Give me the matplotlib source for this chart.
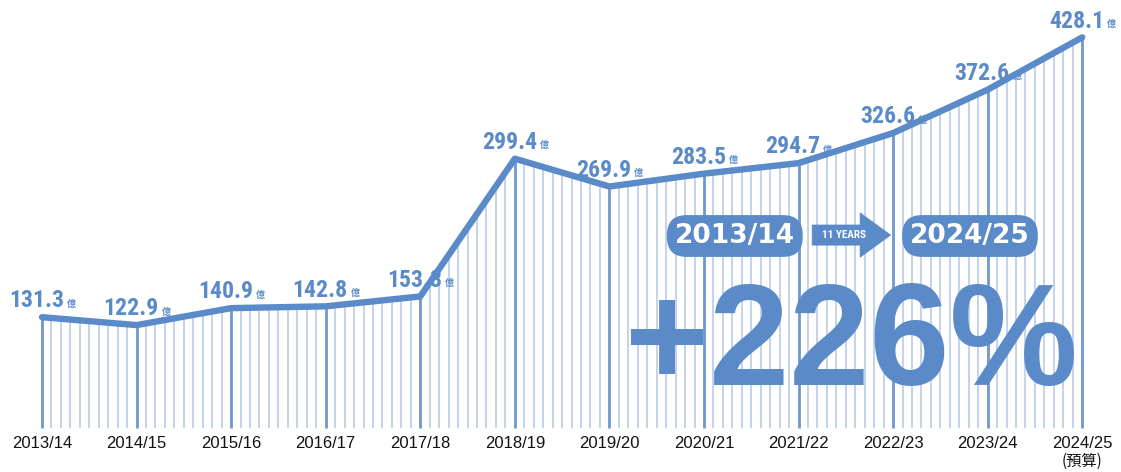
import numpy as np
import matplotlib
matplotlib.use("Agg")
import matplotlib.pyplot as plt
from matplotlib import font_manager

# data
seasons = ["2013/14", "2014/15", "2015/16", "2016/17", "2017/18", "2018/19",
           "2019/20", "2020/21", "2021/22", "2022/23", "2023/24", "2024/25"]
values = [131.3, 122.9, 140.9, 142.8, 153.3, 299.4,
          269.9, 283.5, 294.7, 326.6, 372.6, 428.1]
unit = "億"
budget_note = "(預算)"
badge_from = "2013/14"
badge_to = "2024/25"
badge_span = "11 YEARS"
growth = "+226%"

BLUE = "#5a8ac8"
MID = "#6e98d0"
LIGHT = "#b3c8e6"
BASE = 14
SUB = 10  # thin lines per season

names = {f.name for f in font_manager.fontManager.ttflist}


def pick(*cands):
    for c in cands:
        if c in names:
            return c
    return "Liberation Sans"


NARROW = pick("Roboto Condensed", "Oswald", "Archivo Narrow", "Liberation Sans Narrow")
CJK = "Noto Sans CJK TC"

fig = plt.figure(figsize=(11.21, 4.72), dpi=100)
ax = fig.add_axes([0, 0, 1, 1])
ax.set_xlim(-0.444, 11.41)
ax.set_ylim(-32.9, 467.7)
ax.axis("off")
renderer = fig.canvas.get_renderer()


def fit_size(s, family, weight, width_px, start=20):
    t = fig.text(0, 0, s, fontsize=start, family=family, fontweight=weight)
    w = t.get_window_extent(renderer).width
    t.remove()
    return start * width_px / w


x = np.arange(len(values))
# thin vertical hatching under the line
xs = np.linspace(0, len(values) - 1, (len(values) - 1) * SUB + 1)
ys = np.interp(xs, x, values)
thin = [i for i in range(len(xs)) if i % SUB != 0]
ax.vlines(xs[thin], BASE, ys[thin], color=LIGHT, lw=1.1, zorder=1)
ax.vlines(x, BASE, values, color=MID, lw=2.0, zorder=2)
ax.plot(x, values, color=BLUE, lw=4.6, solid_capstyle="round",
        solid_joinstyle="round", zorder=3)

# value labels
fam = [NARROW, "DejaVu Sans"]
num_fs = fit_size("131.3", fam, "heavy", 55)
for xi, v in zip(x, values):
    t = ax.annotate(f"{v:.1f}", (xi, v), xytext=(-4, 7), textcoords="offset points",
                    ha="center", va="baseline", fontsize=num_fs, fontweight="heavy",
                    family=fam, color=BLUE, zorder=5)
    ax.annotate(unit, xy=(1, 0), xycoords=t, xytext=(2, 2.5), textcoords="offset points",
                ha="left", va="bottom", fontsize=6.5, fontweight="bold",
                family=[CJK, "DejaVu Sans"], color=BLUE, zorder=5)

# season labels
for xi, s in zip(x, seasons):
    ax.text(xi, -3, s, ha="center", va="center", fontsize=12,
            family=["Liberation Sans", "DejaVu Sans"], color="#111111")
ax.text(x[-1], -21.5, budget_note, ha="center", va="center", fontsize=11,
        family=[CJK, "DejaVu Sans"], color="#111111")

# badges
pill = dict(boxstyle="round,pad=0.3,rounding_size=0.75", fc=BLUE, ec="none")
ax.text(0.6555, 0.5, badge_from, transform=ax.transAxes, ha="center", va="center",
        fontsize=19, fontweight="bold", color="white", bbox=pill, zorder=6)
ax.text(0.8653, 0.5, badge_to, transform=ax.transAxes, ha="center", va="center",
        fontsize=19, fontweight="bold", color="white", bbox=pill, zorder=6)
ax.annotate("", xy=(0.7945, 0.502), xytext=(0.7245, 0.502), xycoords="axes fraction",
            arrowprops=dict(arrowstyle="simple,tail_width=1.45,head_width=3.2,head_length=2.2",
                            fc=BLUE, ec=BLUE, lw=0.5, shrinkA=0, shrinkB=0,
                            mutation_scale=10), zorder=6)
span_fs = fit_size(badge_span, fam, "bold", 44)
ax.text(0.7525, 0.502, badge_span, transform=ax.transAxes, ha="center", va="center",
        fontsize=span_fs, fontweight="bold", family=fam, color="white", zorder=7)

big_fam = ["Liberation Sans", "DejaVu Sans"]
big_fs = fit_size(growth, big_fam, "bold", 453, start=100)
ax.text(0.759, 0.184, growth, transform=ax.transAxes, ha="center", va="baseline",
        fontsize=big_fs, fontweight="bold", family=big_fam, color=BLUE, zorder=6)

fig.savefig("out.png", dpi=100)
